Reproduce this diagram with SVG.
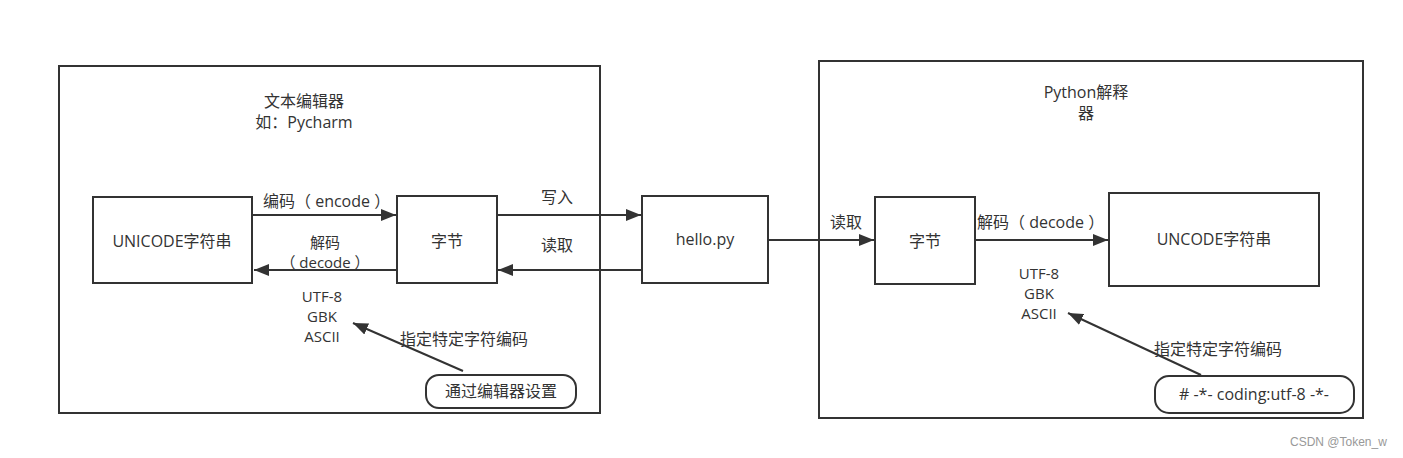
<svg xmlns="http://www.w3.org/2000/svg" width="1403" height="458" viewBox="0 0 1403 458">
<defs>
<style>
.box{fill:#fff;stroke:#333;stroke-width:2}
.frame{fill:none;stroke:#333;stroke-width:2}
.ln{fill:none;stroke:#333;stroke-width:2}
text{font-family:"Open Sans","Noto Sans CJK SC",sans-serif;font-size:16px;fill:#333}
.c{text-anchor:middle}
.s{font-size:15px}
.wm{font-family:"Liberation Sans",Arial,sans-serif;font-size:12px;fill:#999}
</style>
<marker id="ah" markerUnits="userSpaceOnUse" markerWidth="16" markerHeight="12" refX="15" refY="6" orient="auto">
<path d="M0,0 L15,6 L0,12 Z" fill="#333"/>
</marker>
</defs>
<rect width="1403" height="458" fill="#fff"/>

<g id="editor-frame">
<rect class="frame" x="59" y="66" width="541" height="347"/>
<text class="c" x="304" y="107">文本编辑器</text>
<text class="c" x="304" y="128">如：Pycharm</text>
</g>
<g id="interpreter-frame">
<rect class="frame" x="819" y="61" width="544" height="357"/>
<text class="c" x="1086" y="98">Python解释</text>
<text class="c" x="1086" y="119">器</text>
</g>

<g id="connectors">
<line class="ln" x1="253" y1="215" x2="396" y2="215" marker-end="url(#ah)"/>
<line class="ln" x1="397" y1="270" x2="254" y2="270" marker-end="url(#ah)"/>
<line class="ln" x1="497" y1="215" x2="641" y2="215" marker-end="url(#ah)"/>
<line class="ln" x1="642" y1="270" x2="498" y2="270" marker-end="url(#ah)"/>
<line class="ln" x1="768" y1="240" x2="874" y2="240" marker-end="url(#ah)"/>
<line class="ln" x1="975" y1="240" x2="1108" y2="240" marker-end="url(#ah)"/>
<line class="ln" x1="463" y1="371" x2="353" y2="323" marker-end="url(#ah)"/>
<line class="ln" x1="1201" y1="375" x2="1068" y2="313" marker-end="url(#ah)"/>
<text x="263" y="207">编码（ encode ）</text>
<text class="c s" x="325" y="248">解码</text>
<text class="c s" x="325" y="268">（ decode ）</text>
<text class="c" x="557" y="203">写入</text>
<text class="c" x="557" y="251">读取</text>
<text class="c" x="846" y="228">读取</text>
<text x="977" y="228">解码（ decode ）</text>
<text x="400" y="345">指定特定字符编码</text>
<text x="1154" y="355">指定特定字符编码</text>
</g>

<g id="unicode-left">
<rect class="box" x="93" y="197" width="159" height="86"/>
<text class="c" x="172" y="247">UNICODE字符串</text>
</g>
<g id="bytes-left">
<rect class="box" x="397" y="196" width="100" height="87"/>
<text class="c" x="447" y="247">字节</text>
</g>
<g id="hello-py">
<rect class="box" x="642" y="196" width="126" height="87"/>
<text class="c" x="705" y="245">hello.py</text>
</g>
<g id="bytes-right">
<rect class="box" x="875" y="197" width="100" height="87"/>
<text class="c" x="925" y="247">字节</text>
</g>
<g id="uncode-right">
<rect class="box" x="1109" y="193" width="210" height="93"/>
<text class="c" x="1214" y="245">UNCODE字符串</text>
</g>
<g id="encodings-left">
<text class="c s" x="322" y="302">UTF-8</text>
<text class="c s" x="322" y="322">GBK</text>
<text class="c s" x="322" y="342">ASCII</text>
</g>
<g id="encodings-right">
<text class="c s" x="1039" y="279">UTF-8</text>
<text class="c s" x="1039" y="299">GBK</text>
<text class="c s" x="1039" y="319">ASCII</text>
</g>
<g id="editor-setting">
<rect class="box" x="426" y="375" width="150" height="33" rx="13" ry="13"/>
<text class="c" x="501" y="397">通过编辑器设置</text>
</g>
<g id="coding-line">
<rect class="box" x="1155" y="376" width="199" height="37" rx="14" ry="14"/>
<text class="c" x="1254" y="400">#&#160;-*-&#160;coding:utf-8&#160;-*-</text>
</g>
<text class="wm" x="1290" y="446">CSDN @Token_w</text>
</svg>
